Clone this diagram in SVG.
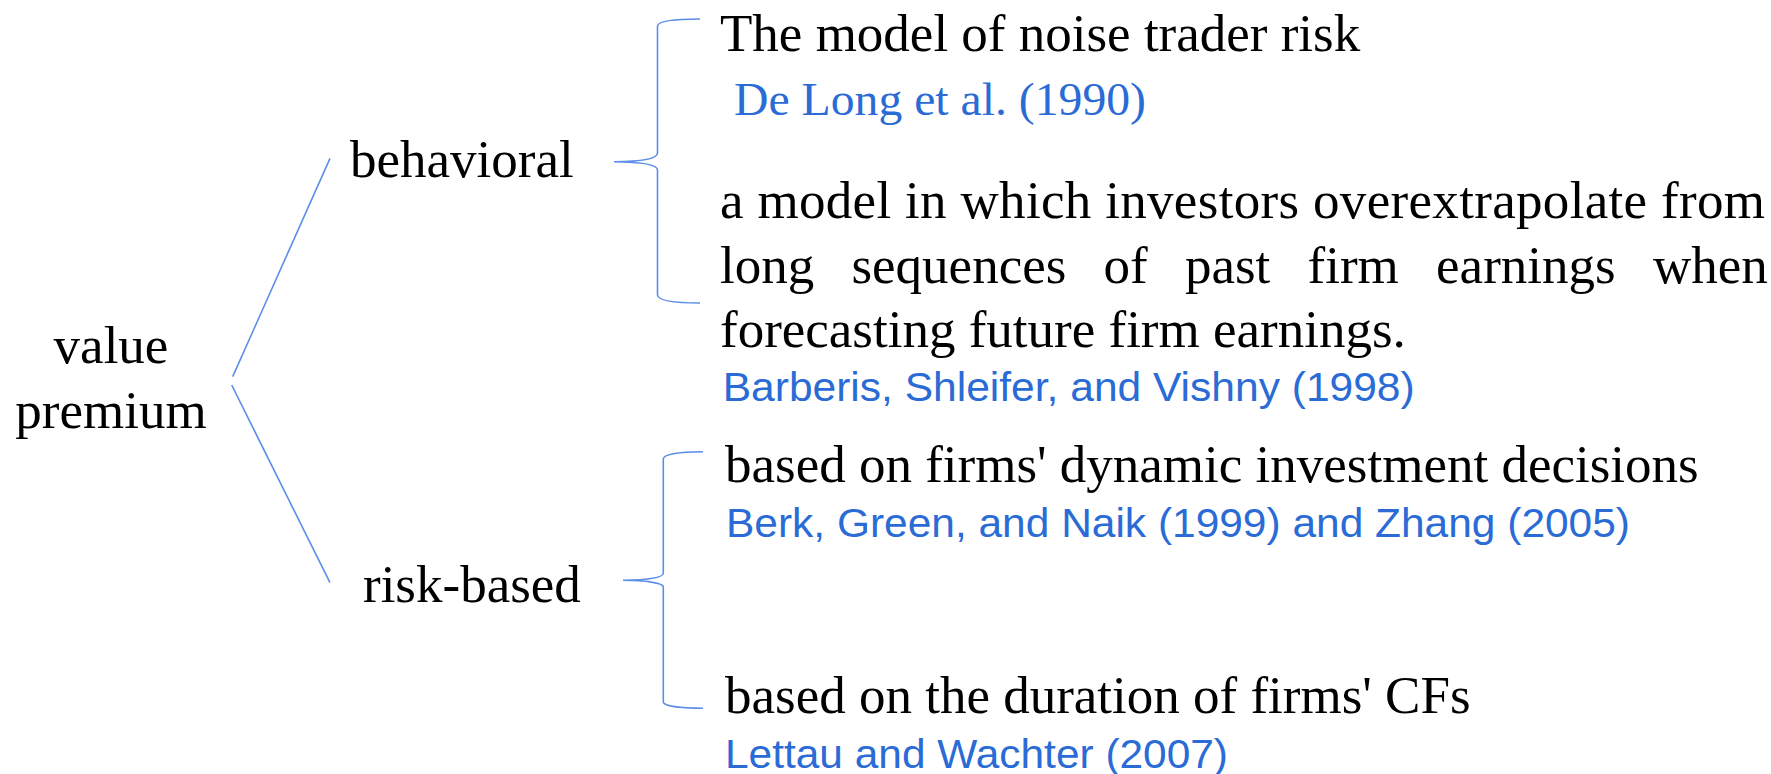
<svg xmlns="http://www.w3.org/2000/svg" width="1771" height="774" viewBox="0 0 1771 774">
<style>
.t{font-family:"Liberation Serif","Times New Roman",serif;font-size:53px;fill:#000}
.c{font-family:"Liberation Serif","Times New Roman",serif;font-size:47px;fill:#2a6bd6}
.s{font-family:"Liberation Sans",Arial,sans-serif;font-size:40px;fill:#2a6bd6}
.ln{fill:none;stroke:#5b8ee9;stroke-width:1.6}
</style>
<rect width="1771" height="774" fill="#fff"/>
<g id="connectors">
<line class="ln" x1="330" y1="158.3" x2="232.7" y2="376.7"/>
<line class="ln" x1="231.7" y1="385" x2="330" y2="582.7"/>
<path class="ln" d="M700,19 C675,19 658,21 657.5,26 L657.5,153 C657.5,159 640,161.5 614,161.7 C640,162 657.5,164 657.5,170 L657.5,295 C658,301 675,303 700,303"/>
<path class="ln" d="M703,451.7 C680,451.7 663.5,454 663.3,459 L663.3,573 C663.3,578 645,580 623,580.3 C645,580.6 663.3,582.6 663.3,587 L663.3,702 C663.5,706 680,708.3 703,708.3"/>
</g>
<g id="root">
<text class="t" x="111" y="363" text-anchor="middle">value</text>
<text class="t" x="111" y="428" text-anchor="middle">premium</text>
</g>
<g id="behavioral">
<text class="t" x="350" y="177">behavioral</text>
</g>
<g id="risk-based">
<text class="t" x="363" y="602">risk-based</text>
</g>
<g id="noise-trader">
<text class="t" x="720" y="51">The model of noise trader risk</text>
<text class="c" x="734" y="115" textLength="412" lengthAdjust="spacingAndGlyphs">De Long et al. (1990)</text>
</g>
<g id="overextrapolate">
<text class="t" x="720" y="218" textLength="1045" lengthAdjust="spacing">a model in which investors overextrapolate from</text>
<text class="t" x="720" y="283" word-spacing="24">long sequences of past firm earnings when</text>
<text class="t" x="720" y="347">forecasting future firm earnings.</text>
<text class="s" x="722.7" y="400.7" textLength="692" lengthAdjust="spacingAndGlyphs">Barberis, Shleifer, and Vishny (1998)</text>
</g>
<g id="investment">
<text class="t" x="725" y="482">based on firms' dynamic investment decisions</text>
<text class="s" x="726" y="537" textLength="904" lengthAdjust="spacingAndGlyphs">Berk, Green, and Naik (1999) and Zhang (2005)</text>
</g>
<g id="duration">
<text class="t" x="725" y="713">based on the duration of firms' CFs</text>
<text class="s" x="725" y="768" textLength="503" lengthAdjust="spacingAndGlyphs">Lettau and Wachter (2007)</text>
</g>
</svg>
